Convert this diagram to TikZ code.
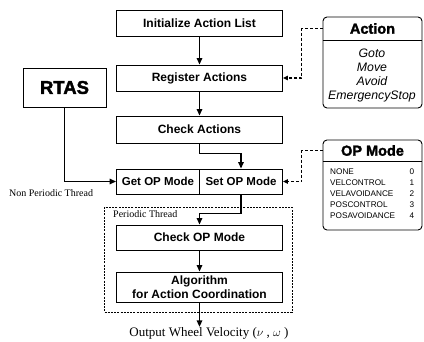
\documentclass[tikz,border=0pt]{standalone}
\usepackage{fontspec}
\setmainfont{Liberation Serif}
\setsansfont{Liberation Sans}
\newfontfamily\heavysans[FakeBold=2]{Liberation Sans Bold}
\usetikzlibrary{arrows.meta}
\begin{document}
\begin{tikzpicture}[x=1pt,y=-1pt,
  box/.style={draw, line width=0.9pt, minimum width=166pt, minimum height=26pt, inner sep=0pt,
    font=\sffamily\bfseries\fontsize{12}{14.5}\selectfont},
  halfbox/.style={box, minimum width=83pt, minimum height=25pt, font=\sffamily\bfseries\fontsize{11.5}{14}\selectfont},
  arr/.style={line width=1.5pt, -{Triangle[length=6.5pt,width=5.5pt]}},
  darr/.style={line width=1.3pt, dash pattern=on 3pt off 2pt, -{Triangle[length=5pt,width=4.5pt]}},
  panel/.style={draw, line width=0.9pt, rounded corners=4pt, minimum width=99pt, inner sep=0pt},
  head/.style={inner sep=0pt, minimum width=99pt, font=\heavysans\fontsize{14.5}{17}\selectfont},
  serifl/.style={inner sep=0pt, font=\rmfamily\fontsize{10}{12}\selectfont}
]
\useasboundingbox (0,0) rectangle (424,341);

% main flow
\node[box] (init) at (199.5,23.5) {Initialize Action List};
\node[box] (reg) at (199.5,78) {Register Actions};
\node[box, minimum height=27pt] (chk) at (199.5,129.5) {Check Actions};
\node[halfbox] (get) at (158,181.5) {Get OP Mode};
\node[halfbox] (set) at (241,181.5) {Set OP Mode};

% periodic thread frame
\node[draw, line width=0.6pt, dash pattern=on 2pt off 1.2pt, minimum width=187.5pt, minimum height=105pt, inner sep=0pt] (per) at (198.25,259.5) {};
\node[serifl, anchor=west] (ptl) at (113,214) {Periodic Thread};
\node[box, minimum height=25pt] (cop) at (199.5,237.5) {Check OP Mode};
\node[box, minimum height=30pt, align=center] (alg) at (199.5,287) {Algorithm\\for Action Coordination};
\node[inner sep=0pt, font=\rmfamily\fontsize{13}{15}\selectfont] (out) at (209,333) {Output Wheel Velocity ($\nu$ , $\omega$ )};

% RTAS
\node[draw, line width=0.9pt, minimum width=83pt, minimum height=39pt, inner sep=0pt,
  font=\heavysans\fontsize{18.5}{21}\selectfont] (rtas) at (64.5,87.5) {RTAS};
\node[serifl, anchor=west] (npt) at (9,193) {Non Periodic Thread};

% Action panel
\node[panel, minimum height=91pt] (actbox) at (372.5,62.5) {};
\node[head, minimum height=23pt] (acthead) at (372.5,28.5) {Action};
\draw[line width=0.9pt] (acthead.south west) -- (acthead.south east);
\node[inner sep=0pt, align=center, font=\sffamily\itshape\fontsize{12.3}{13.8}\selectfont] (actlist) at (372,75.5)
  {Goto\\Move\\Avoid\\EmergencyStop};

% OP Mode panel
\node[panel, minimum height=90pt] (opbox) at (372.5,185) {};
\node[head, minimum height=21pt] (ophead) at (372.5,150.5) {OP Mode};
\draw[line width=0.9pt] (ophead.south west) -- (ophead.south east);
\node[inner sep=0pt, anchor=north west, text width=84pt, align=left,
  font=\sffamily\fontsize{8.2}{11}\selectfont] (oplist) at (330,169)
  {NONE\hfill 0\\VELCONTROL\hfill 1\\VELAVOIDANCE\hfill 2\\POSCONTROL\hfill 3\\POSAVOIDANCE\hfill 4};

% connectors
\draw[arr] (init) -- (reg);
\draw[arr] (reg) -- (chk);
\draw[arr] (chk.south) -- ++(0,10) -| (set.north);
\draw[arr] (rtas.south) |- (get.west);
\draw[arr] (set.south) -- ++(0,19) -| (cop.north);
\draw[arr] (cop) -- (alg);
\draw[arr] (alg.south) -- (alg.south |- out.north);
\draw[darr] (acthead.west) -- ++(-21,0) |- (reg.east);
\draw[darr] (ophead.west) -- ++(-21,0) |- (set.east);
\end{tikzpicture}
\end{document}
